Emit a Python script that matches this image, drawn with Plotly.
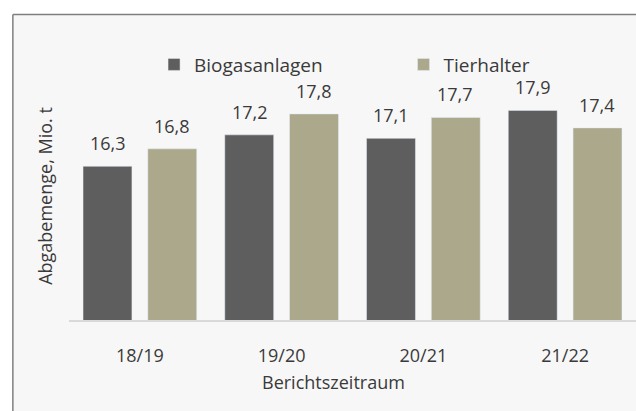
import plotly.graph_objects as go

periods = ["18/19", "19/20", "20/21", "21/22"]
biogas = [16.3, 17.2, 17.1, 17.9]
tierhalter = [16.8, 17.8, 17.7, 17.4]

font = "Open Sans"
text_col = "#3a3a3a"
bar_w = 0.345
gap = 0.056

fig = go.Figure()
fig.add_trace(go.Bar(x=periods, y=biogas, name="Biogasanlagen", legend="legend",
                     marker_color="#5e5e5e", width=bar_w, offset=-(bar_w + gap)))
fig.add_trace(go.Bar(x=periods, y=tierhalter, name="Tierhalter", legend="legend2",
                     marker_color="#aba88b", width=bar_w, offset=gap))

# value labels above the bars
for vals, shift in [(biogas, -32), (tierhalter, 32)]:
    for p, v in zip(periods, vals):
        fig.add_annotation(x=p, y=v, text=f"{v:.1f}".replace(".", ","),
                           xshift=shift, yshift=9, yanchor="bottom",
                           showarrow=False,
                           font=dict(size=18, color=text_col, family=font))

# chart frame: light grey box, border only on left and top (rest is cropped)
fig.add_shape(type="rect", xref="paper", yref="paper",
              x0=-0.099, x1=1.2, y0=-0.6, y1=1.232,
              fillcolor="#f7f7f7", line=dict(width=0), layer="below")
fig.add_shape(type="line", xref="paper", yref="paper",
              x0=-0.099, x1=-0.099, y0=-0.6, y1=1.232,
              line=dict(color="#7f7f7f", width=1.5), layer="below")
fig.add_shape(type="line", xref="paper", yref="paper",
              x0=-0.099, x1=1.2, y0=1.232, y1=1.232,
              line=dict(color="#7f7f7f", width=1.5), layer="below")

fig.add_annotation(text="Berichtszeitraum", xref="paper", yref="paper",
                   x=0.466, y=-0.25, yanchor="middle", showarrow=False,
                   font=dict(size=18, color=text_col, family=font))

legend_style = dict(orientation="h", y=1.03, yanchor="middle", xanchor="left",
                    bgcolor="rgba(0,0,0,0)", font=dict(size=19, color=text_col),
                    itemclick=False, itemdoubleclick=False)

fig.update_layout(
    width=636, height=411,
    margin=dict(l=69, r=0, t=72, b=91),
    paper_bgcolor="white", plot_bgcolor="rgba(0,0,0,0)",
    barmode="group",
    font=dict(family=font, size=18, color=text_col),
    showlegend=True,
    legend=dict(x=0.15, **legend_style),
    legend2=dict(x=0.59, **legend_style),
    xaxis=dict(showline=True, linecolor="#d9d9d9", linewidth=2, automargin=False,
               ticks="outside", ticklen=18, tickcolor="rgba(0,0,0,0)",
               tickfont=dict(size=18, color=text_col), showgrid=False),
    yaxis=dict(range=[11.9, 19.0], showticklabels=False, showgrid=False,
               zeroline=False, showline=False, automargin=False,
               title=dict(text="Abgabemenge, Mio. t", standoff=10,
                          font=dict(size=18, color=text_col))),
)

# drop the default page margin / scrollbars so the figure sits at the window corner
fig.write_html("out.html", config={"displayModeBar": False},
               post_script="document.body.style.margin='0';"
                           "document.body.style.overflow='hidden';")
